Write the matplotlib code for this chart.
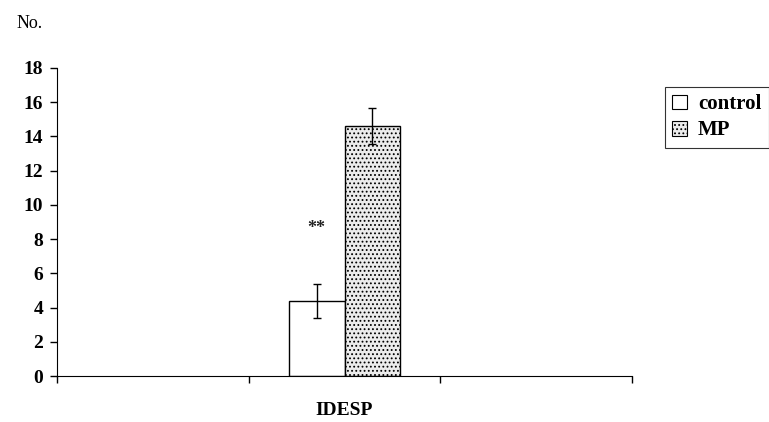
import matplotlib
matplotlib.use("Agg")
import matplotlib.pyplot as plt
from matplotlib.patches import Patch

categories = ["IDESP"]
series = ["control", "MP"]
values = [4.4, 14.6]
errors = [1.0, 1.05]
yticks = [0, 2, 4, 6, 8, 10, 12, 14, 16, 18]
signif = "**"

plt.rcParams['font.family'] = ['Liberation Serif', 'DejaVu Serif']
plt.rcParams['hatch.color'] = '#333333'
plt.rcParams['hatch.linewidth'] = 0.8

fig = plt.figure(figsize=(7.69, 4.22), dpi=100)
ax = fig.add_axes([0.074, 0.109, 0.748, 0.730])

w = 0.29
center = 1.5
facecolors = ["white", "#ececec"]
hatches = [None, "...."]
for i, (s, v, e) in enumerate(zip(series, values, errors)):
    x = center + (i - 0.5) * w
    ax.bar(x, v, width=w, color=facecolors[i], hatch=hatches[i],
           edgecolor="black", linewidth=1.0, zorder=2)
    ax.errorbar(x, v, yerr=e, fmt="none", ecolor="black", elinewidth=1.0,
                capsize=3, capthick=1.0, zorder=3)

ax.text(center - 0.5 * w, values[0] + 4.2, signif, ha="center", va="center",
        fontsize=13, fontweight="bold", color="#222222")

ax.set_xlim(0, 3)
ax.set_ylim(0, 18)
ax.set_yticks(yticks)
ax.set_yticklabels([str(t) for t in yticks], fontsize=14, fontweight="bold")
ax.set_xticks([0, 1, 2, 3])
ax.set_xticklabels([])
ax.tick_params(axis="y", direction="out", length=5, width=1, pad=5)
ax.tick_params(axis="x", direction="out", length=5, width=1)
ax.spines["top"].set_visible(False)
ax.spines["right"].set_visible(False)
ax.text(center, -2.0, categories[0], ha="center", va="center",
        fontsize=14, fontweight="bold")

fig.text(0.022, 0.945, "No.", fontsize=13, ha="left", va="center")

handles = [Patch(facecolor="white", edgecolor="black", linewidth=0.8),
           Patch(facecolor="#ececec", edgecolor="black", hatch="....", linewidth=0.8)]
leg = fig.legend(handles, series, loc="upper left", bbox_to_anchor=(0.865, 0.794),
                 frameon=True, fancybox=False, edgecolor="black",
                 prop={"weight": "bold", "size": 15}, handlelength=0.72,
                 handleheight=0.72, handletextpad=0.5, borderpad=0.35,
                 labelspacing=0.3, borderaxespad=0)
leg.get_frame().set_linewidth(0.8)

fig.savefig("out.png", dpi=100)
